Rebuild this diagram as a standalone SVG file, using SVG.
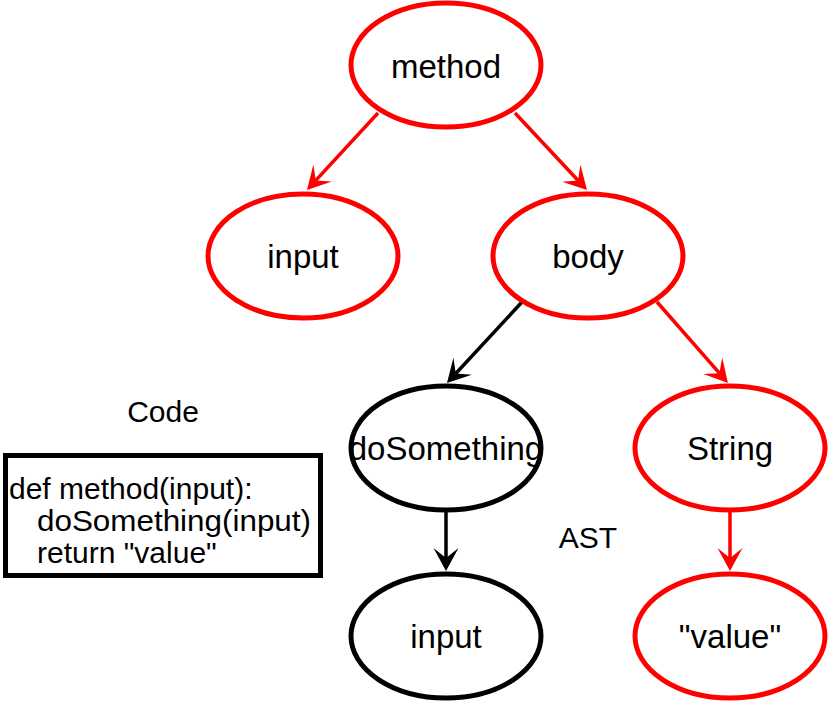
<svg xmlns="http://www.w3.org/2000/svg" width="830" height="706" viewBox="0 0 830 706">
<style>
.n ellipse{fill:#fff;stroke-width:5}
.r ellipse{stroke:#ff0000}
.b ellipse{stroke:#000}
text{font-family:"Liberation Sans",Arial,sans-serif;fill:#000}
.nt{font-size:33px;text-anchor:middle}
.lbl{font-size:30px}
.e{fill:none;stroke-width:3.5}
.er{stroke:#ff0000}
.eb{stroke:#000}
</style>
<defs>
<marker id="ar" markerUnits="userSpaceOnUse" markerWidth="26" markerHeight="28" refX="10" refY="13" orient="auto" viewBox="0 0 26 28">
<path d="M23,13 L0,0.5 L10,13 L0,25.5 Z" fill="#ff0000"/>
</marker>
<marker id="ab" markerUnits="userSpaceOnUse" markerWidth="26" markerHeight="28" refX="10" refY="13" orient="auto" viewBox="0 0 26 28">
<path d="M23,13 L0,0.5 L10,13 L0,25.5 Z" fill="#000"/>
</marker>
</defs>
<g id="edges">
<line class="e er" x1="378" y1="113" x2="315.8" y2="180.4" marker-end="url(#ar)"/>
<line class="e er" x1="515" y1="113" x2="578.1" y2="180.5" marker-end="url(#ar)"/>
<line class="e eb" x1="522" y1="302" x2="455.8" y2="373.5" marker-end="url(#ab)"/>
<line class="e er" x1="657" y1="302" x2="719.4" y2="373.2" marker-end="url(#ar)"/>
<line class="e eb" x1="446" y1="512" x2="446" y2="558" marker-end="url(#ab)"/>
<line class="e er" x1="730" y1="512" x2="730" y2="558" marker-end="url(#ar)"/>
</g>
<g id="method" class="n r"><ellipse cx="446" cy="65" rx="95" ry="62"/><text class="nt" x="446" y="78">method</text></g>
<g id="input1" class="n r"><ellipse cx="303" cy="256" rx="95" ry="62"/><text class="nt" x="303" y="268">input</text></g>
<g id="body" class="n r"><ellipse cx="588" cy="256" rx="95" ry="62"/><text class="nt" x="588" y="268">body</text></g>
<g id="doSomething" class="n b"><ellipse cx="446" cy="448" rx="95" ry="62"/><text class="nt" x="446" y="460">doSomething</text></g>
<g id="string" class="n r"><ellipse cx="730" cy="448" rx="95" ry="62"/><text class="nt" x="730" y="460">String</text></g>
<g id="input2" class="n b"><ellipse cx="446" cy="636" rx="95" ry="62"/><text class="nt" x="446" y="648">input</text></g>
<g id="value" class="n r"><ellipse cx="730" cy="636" rx="95" ry="62"/><text class="nt" x="730" y="648">"value"</text></g>
<g id="code-label"><text class="lbl" x="163" y="422" text-anchor="middle">Code</text></g>
<g id="code">
<rect x="5.5" y="455.5" width="315" height="120" fill="#fff" stroke="#000" stroke-width="5"/>
<text class="lbl" x="9" y="499">def method(input):</text>
<text class="lbl" x="37" y="531" textLength="274" lengthAdjust="spacingAndGlyphs">doSomething(input)</text>
<text class="lbl" x="37" y="563">return "value"</text>
</g>
<g id="ast-label"><text class="lbl" x="588" y="548" text-anchor="middle">AST</text></g>
</svg>
